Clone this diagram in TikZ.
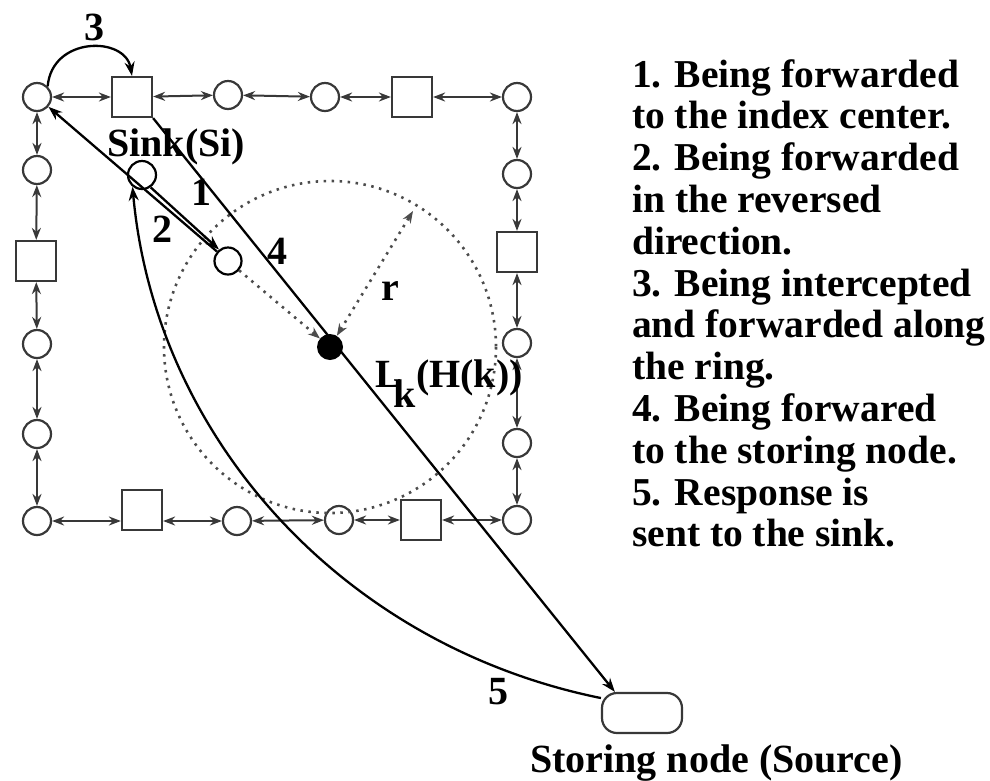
\documentclass[tikz,border=0pt]{standalone}
\usepackage{fontspec}
\setmainfont{Liberation Serif}
\usetikzlibrary{arrows.meta,calc}
\definecolor{ringc}{gray}{0.22}
\definecolor{dotc}{gray}{0.3}
\begin{document}
\begin{tikzpicture}[x=1pt,y=-1pt,
  cnode/.style={circle,draw=ringc,line width=2.2pt,minimum size=28pt,inner sep=0pt},
  snode/.style={rectangle,draw=ringc,line width=2.2pt,minimum size=40pt,inner sep=0pt},
  ringlink/.style={draw=ringc,line width=2pt,{Stealth[open,length=12pt,width=9pt]}-{Stealth[open,length=12pt,width=9pt]}},
  msg/.style={draw=black,line width=2.3pt,-{Stealth[length=14pt,width=10pt]}},
  dots/.style={draw=dotc,line width=2.6pt,dash pattern=on 2.5pt off 5.5pt},
  dotarrow/.style={dots,-{Stealth[open,length=12pt,width=9pt]}},
  lab/.style={font=\fontsize{40}{48}\selectfont\bfseries,inner sep=0pt},
  leg/.style={font=\fontsize{39.5}{48}\selectfont\bfseries,inner sep=0pt,anchor=base west}]
\useasboundingbox (0,0) rectangle (990,780);

% ring nodes
\node[cnode] (t1) at (37,97) {};
\node[snode] (t2) at (132,97) {};
\node[cnode] (t3) at (228,95) {};
\node[cnode] (t4) at (325,97) {};
\node[snode] (t5) at (412,97) {};
\node[cnode] (t6) at (517,97) {};
\node[cnode] (r1) at (517,174) {};
\node[snode] (r2) at (517,252) {};
\node[cnode] (r3) at (517,343) {};
\node[cnode] (r4) at (517,443) {};
\node[cnode] (br) at (517,520) {};
\node[cnode] (bl) at (37,521) {};
\node[snode] (b2) at (142,510) {};
\node[cnode] (b3) at (237,521) {};
\node[cnode] (b4) at (339,520) {};
\node[snode] (b5) at (421,520) {};
\node[cnode] (l1) at (37,170) {};
\node[snode] (l2) at (36,261) {};
\node[cnode] (l3) at (37,344) {};
\node[cnode] (l4) at (37,434) {};

% ring links
\draw[ringlink] (t1) -- (t2);
\draw[ringlink] (t2) -- (t3);
\draw[ringlink] (t3) -- (t4);
\draw[ringlink] (t4) -- (t5);
\draw[ringlink] (t5) -- (t6);
\draw[ringlink] (t6) -- (r1);
\draw[ringlink] (r1) -- (r2);
\draw[ringlink] (r2) -- (r3);
\draw[ringlink] (r3) -- (r4);
\draw[ringlink] (r4) -- (br);
\draw[ringlink] (bl) -- (bl -| b2.west);
\draw[ringlink] (b2.east |- b3) -- (b3);
\draw[ringlink] (b3) -- (b4);
\draw[ringlink] (b4) -- (b5);
\draw[ringlink] (b5) -- (br);
\draw[ringlink] (t1) -- (l1);
\draw[ringlink] (l1) -- (l2);
\draw[ringlink] (l2) -- (l3);
\draw[ringlink] (l3) -- (l4);
\draw[ringlink] (l4) -- (bl);

% inner nodes
\node[cnode,draw=black] (c1) at (142,175) {};
\node[cnode,draw=black,minimum size=27pt] (c2) at (228,261) {};
\node[circle,fill=black,minimum size=26pt,inner sep=0pt] (dot) at (330,347) {};
\node[rectangle,rounded corners=15pt,draw=ringc,line width=2.2pt,minimum width=80pt,minimum height=40pt] (st) at (642,713) {};
\coordinate (rp) at (413,211);

% dotted circle and arrows
\draw[dots] (dot) circle[radius=166];
\draw[dotarrow] (c2) -- (dot);
\draw[dots,{Stealth[open,length=12pt,width=9pt]}-{Stealth[open,length=12pt,width=9pt]}] (dot) -- (rp);

% messages
\draw[msg] (t1.north east) .. controls (52,36) and (125,36) .. (t2.north);
\draw[msg] (t2.south east) -- ([xshift=14pt]st.north west);
\draw[msg] (c2) -- (t1);
\draw[msg] (c1.-55) -- (c2.128);
\draw[msg] (st.160) .. controls (340,645) and (155,435) .. (c1.231);

% labels
\node[lab] (n3) at (94,27) {3};
\node[lab,anchor=base west] (sinklab) at (107,156) {Sink(Si)};
\node[lab] (n1) at (201,192) {1};
\node[lab] (n2) at (162,229) {2};
\node[lab] (n4) at (277,251) {4};
\node[lab] (nr) at (390,291) {r};
\node[lab] (n5) at (498,692) {5};
\node[lab,anchor=base west] (lk) at (375,387) {L\kern-8pt\raisebox{-20pt}{k}(H(k))};
\node[lab,anchor=base west] (stlab) at (530,772) {Storing node (Source)};

% legend
\foreach \txt [count=\i] in {1. Being forwarded,to the index center.,2. Being forwarded,in the reversed,direction.,3. Being intercepted,and forwarded along,the ring.,4. Being forwared,to the storing node.,5. Response is,sent to the sink.}
  \node[leg] (leg\i) at (632,{87+41.8*(\i-1)}) {\txt};
\end{tikzpicture}
\end{document}
